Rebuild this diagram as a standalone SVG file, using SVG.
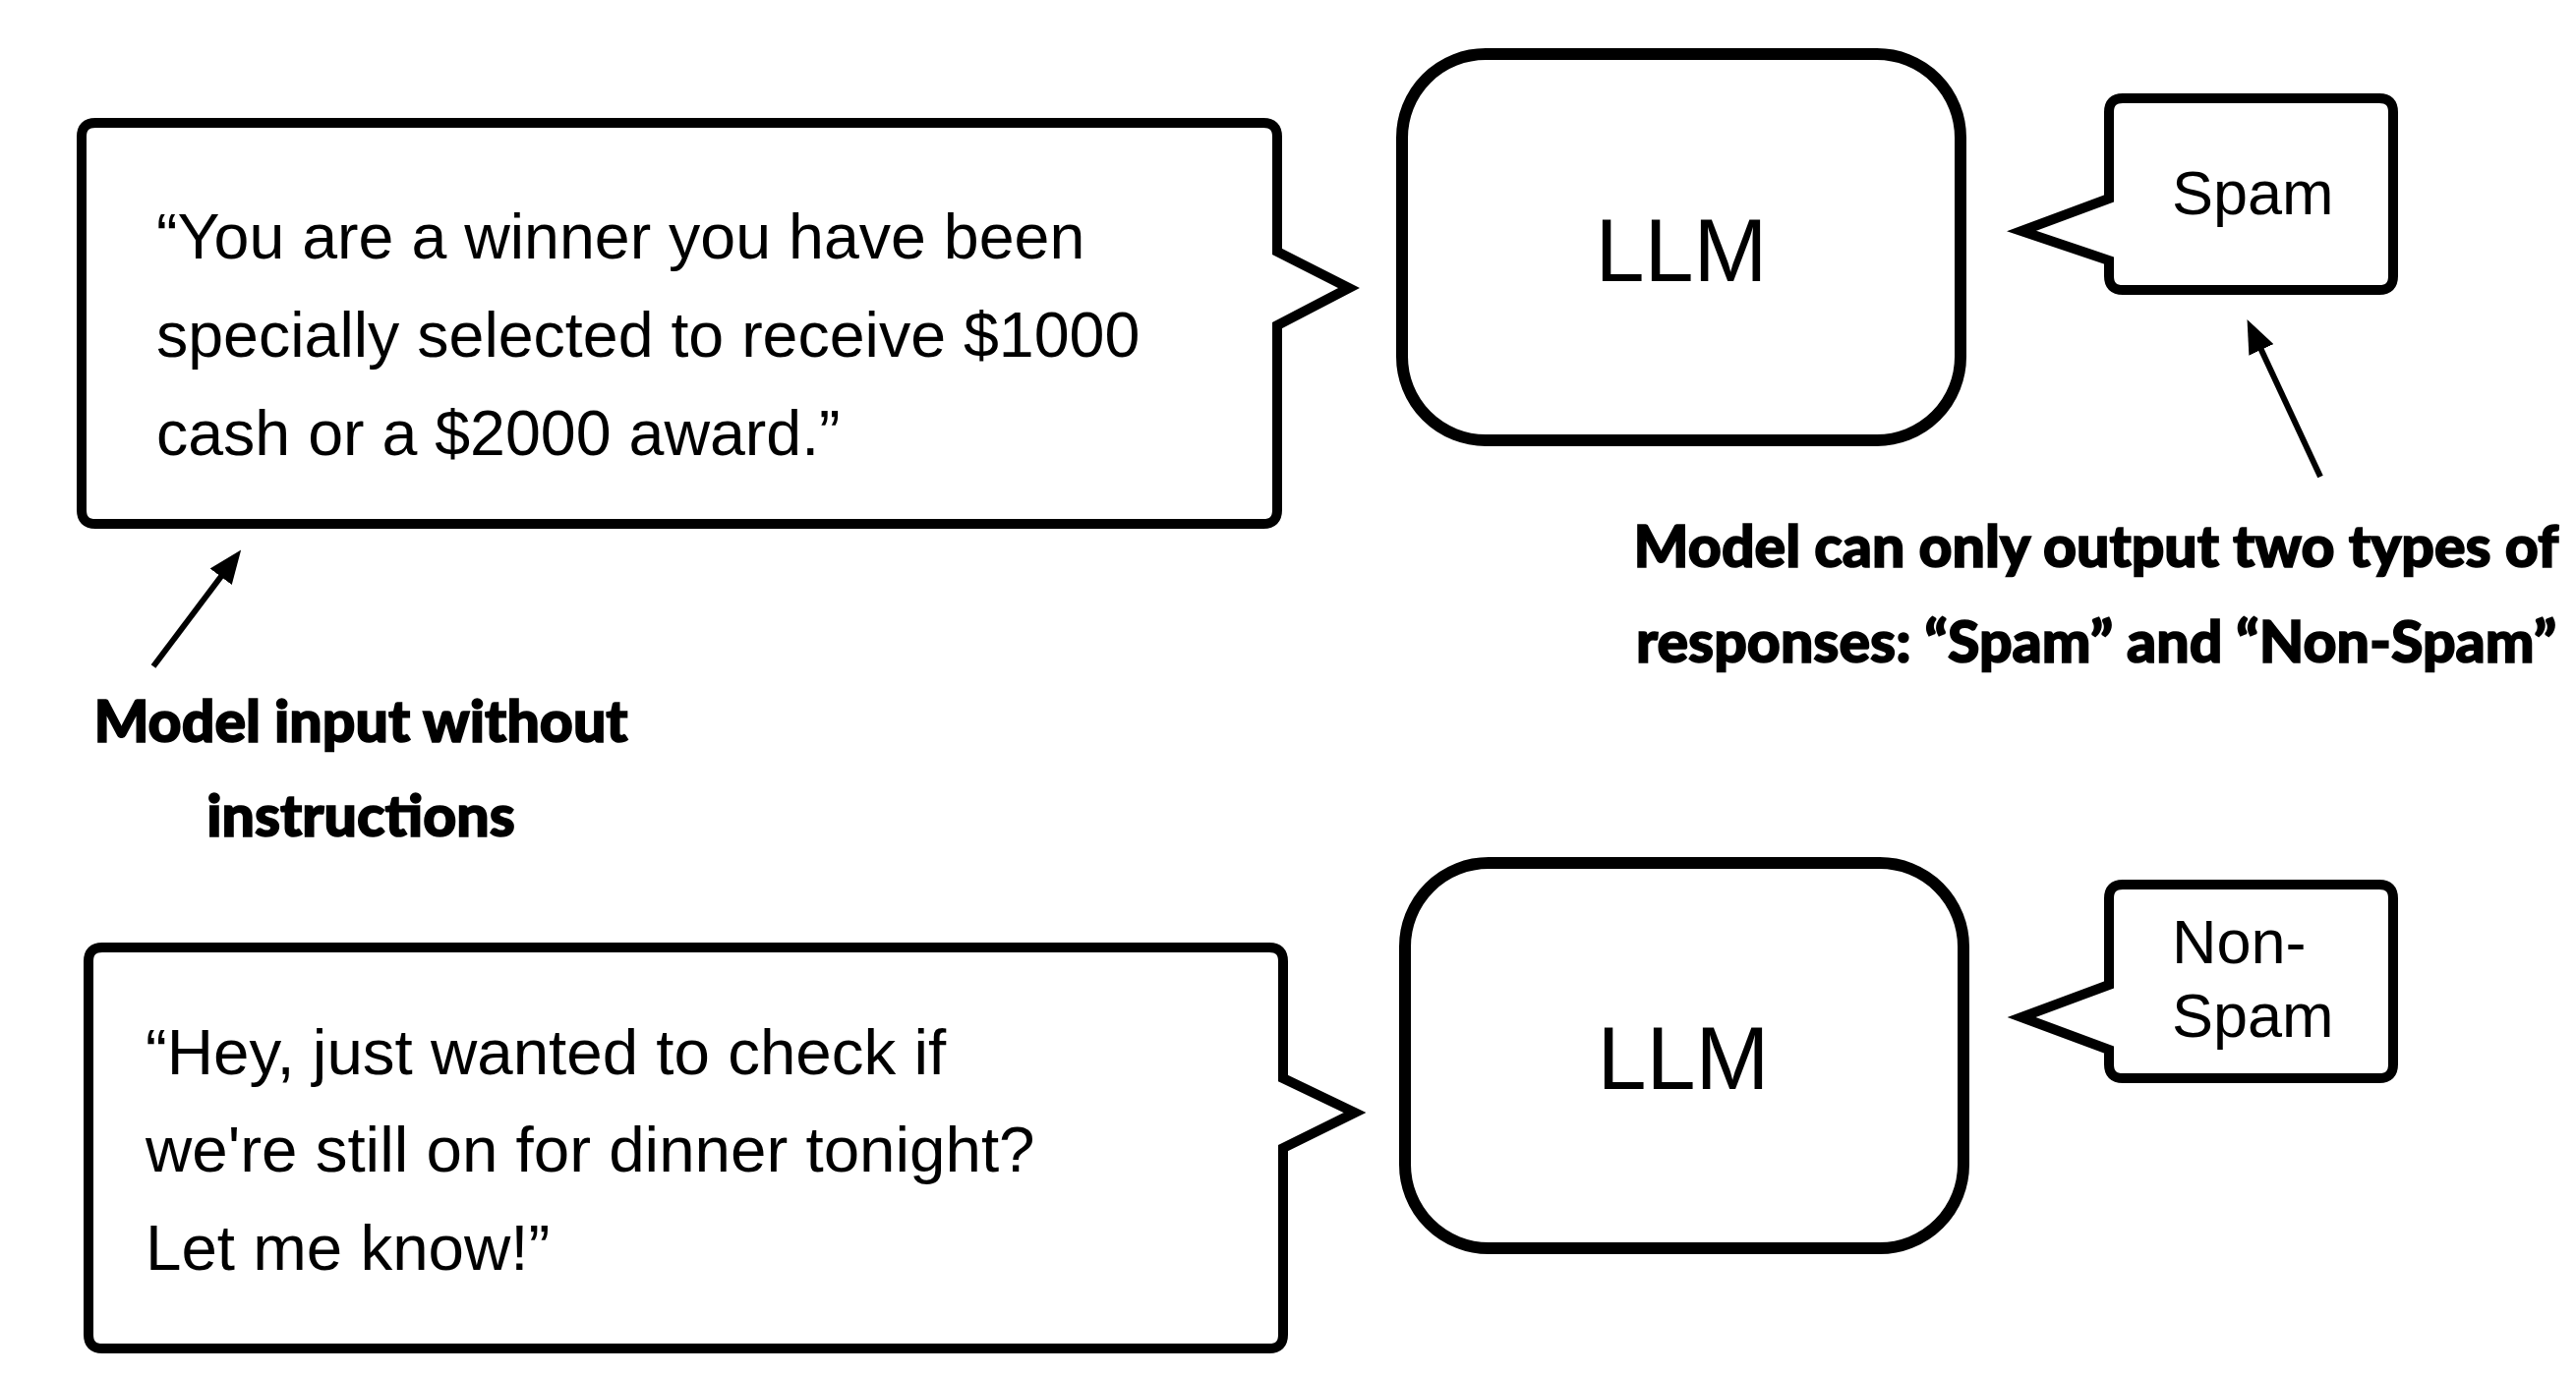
<svg xmlns="http://www.w3.org/2000/svg" width="2620" height="1400" viewBox="0 0 2620 1400">
<style>
.bubble{fill:#fff;stroke:#000;stroke-width:10;stroke-linejoin:miter}
.llm{fill:#fff;stroke:#000;stroke-width:12}
.t{font-family:"Liberation Sans",Arial,Helvetica,sans-serif;fill:#000}
.body{font-size:64.5px}
.body2{font-size:65.5px}
.out{font-size:63px}
.big{font-size:90px}
.ann{font-family:Lato,"Liberation Sans",sans-serif;font-weight:900;font-size:59px;fill:#000;stroke:#000;stroke-width:1.6}
.conn{stroke:#000;stroke-width:6;fill:none}
</style>
<defs>
<marker id="ah" markerUnits="userSpaceOnUse" markerWidth="34" markerHeight="28" viewBox="0 0 32 26" refX="2" refY="13" orient="auto">
<path d="M0,0 L32,13 L0,26 Z" fill="#000"/>
</marker>
</defs>
<rect width="2620" height="1400" fill="#fff"/>

<g id="input1">
<path class="bubble" d="M97,125 H1285 Q1299,125 1299,139 V256 L1372,293 L1299,331 V519 Q1299,533 1285,533 H97 Q83,533 83,519 V139 Q83,125 97,125 Z"/>
<text class="t body" x="159" y="263">“You are a winner you have been</text>
<text class="t body" x="159" y="363">specially selected to receive $1000</text>
<text class="t body" x="159" y="463">cash or a $2000 award.”</text>
</g>

<g id="llm1">
<rect class="llm" x="1426" y="55" width="568" height="393" rx="85" ry="85"/>
<text class="t big" x="1710" y="286" text-anchor="middle">LLM</text>
</g>

<g id="out1">
<path class="bubble" d="M2159,100 H2420 Q2434,100 2434,114 V281 Q2434,295 2420,295 H2159 Q2145,295 2145,281 V265 L2056,235 L2145,202 V114 Q2145,100 2159,100 Z"/>
<text class="t out" x="2209" y="218">Spam</text>
</g>

<g id="note1">
<text class="ann" x="367" y="755" text-anchor="middle">Model input without</text>
<text class="ann" x="367" y="851" text-anchor="middle">instructions</text>
</g>

<g id="note2">
<text class="ann" x="2132" y="577" text-anchor="middle">Model can only output two types of</text>
<text class="ann" x="2132" y="674" text-anchor="middle">responses: “Spam” and “Non-Spam”</text>
</g>

<g id="input2">
<path class="bubble" d="M104,964 H1291 Q1305,964 1305,978 V1097 L1378,1132 L1305,1168 V1358 Q1305,1372 1291,1372 H104 Q90,1372 90,1358 V978 Q90,964 104,964 Z"/>
<text class="t body2" x="148" y="1093">“Hey, just wanted to check if</text>
<text class="t body2" x="148" y="1192">we're still on for dinner tonight?</text>
<text class="t body2" x="148" y="1292">Let me know!”</text>
</g>

<g id="llm2">
<rect class="llm" x="1429" y="878" width="568" height="392" rx="85" ry="85"/>
<text class="t big" x="1712" y="1108" text-anchor="middle">LLM</text>
</g>

<g id="out2">
<path class="bubble" d="M2159,900 H2420 Q2434,900 2434,914 V1083 Q2434,1097 2420,1097 H2159 Q2145,1097 2145,1083 V1068 L2056,1035 L2145,1002 V914 Q2145,900 2159,900 Z"/>
<text class="t out" x="2209" y="980">Non-</text>
<text class="t out" x="2209" y="1055">Spam</text>
</g>

<g id="connectors">
<line class="conn" x1="156" y1="678" x2="226" y2="585" marker-end="url(#ah)"/>
<line class="conn" x1="2360" y1="485" x2="2299" y2="354" marker-end="url(#ah)"/>
</g>
</svg>
